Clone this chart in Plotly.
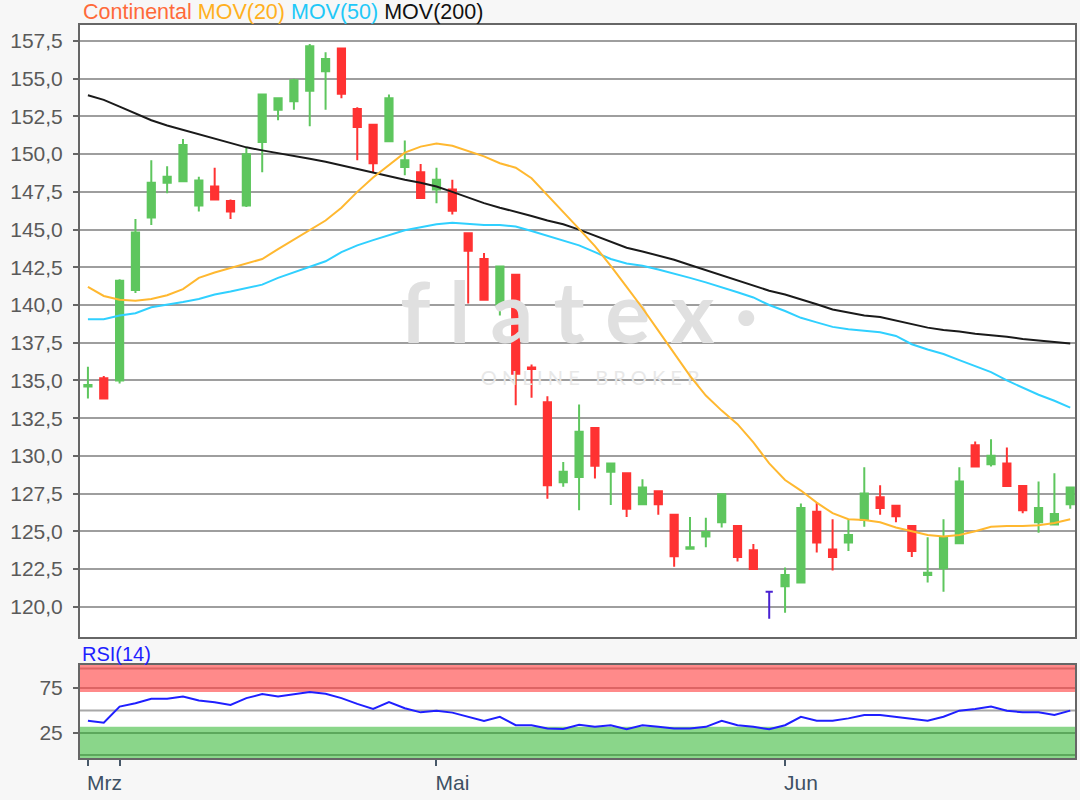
import numpy as np
import pandas as pd
import plotly.graph_objects as go

# trading days shown (Xetra, 2019)
dates = pd.bdate_range("2019-03-28", "2019-06-27", freq="C",
                       holidays=["2019-04-19", "2019-04-22", "2019-05-01"])

open_ = [134.6, 135.15, 135.0, 141.0, 145.8, 148.1, 148.2, 146.6, 147.85, 146.9,
         146.6, 150.8, 152.95, 153.5, 154.2, 155.5, 157.0, 153.0, 151.95, 150.85,
         149.15, 148.8, 147.65, 147.65, 144.75, 143.05, 140.0, 142.0, 135.85, 133.55,
         128.25, 128.6, 131.85, 128.95, 128.85, 126.8, 127.65, 126.1, 123.85, 124.65,
         125.6, 125.35, 123.75, 121.0, 121.35, 121.6, 126.3, 123.8, 124.25, 125.75,
         127.25, 126.7, 125.35, 122.1, 122.55, 124.2, 130.7, 129.45, 129.5, 128.0,
         125.6, 125.45, 126.8]
high = [135.9, 135.3, 141.7, 145.7, 149.6, 149.2, 151.0, 148.5, 149.1, 147.0,
        150.4, 154.0, 153.75, 155.0, 157.3, 156.75, 157.05, 153.1, 152.0, 153.95,
        150.9, 149.35, 149.1, 148.3, 144.8, 143.45, 142.6, 142.05, 136.05, 133.95,
        129.6, 133.4, 131.9, 129.55, 128.9, 128.45, 127.7, 126.15, 125.95, 125.9,
        127.5, 125.4, 124.15, 121.0, 122.6, 126.85, 126.9, 125.8, 125.75, 129.25,
        128.05, 126.75, 125.4, 124.6, 125.8, 129.25, 130.95, 131.1, 130.55, 128.05,
        128.3, 128.85, 127.95]
low = [133.8, 133.75, 134.8, 140.8, 145.3, 147.4, 148.15, 146.2, 146.95, 145.7,
       146.5, 148.8, 152.25, 152.95, 151.85, 152.95, 153.7, 149.6, 148.75, 150.8,
       148.6, 147.05, 146.75, 146.0, 140.1, 140.3, 139.3, 133.35, 133.85, 127.15,
       127.95, 126.4, 128.5, 126.75, 125.95, 126.75, 126.1, 122.65, 123.8, 123.95,
       125.25, 123.0, 122.45, 119.2, 119.6, 121.55, 123.6, 122.4, 123.7, 125.3,
       126.1, 125.6, 123.3, 121.6, 121.0, 124.15, 129.25, 129.3, 127.95, 126.2,
       124.9, 125.4, 126.5]
close = [134.7, 133.8, 141.6, 144.8, 148.1, 148.5, 150.6, 148.25, 147.0, 146.2,
         150.0, 153.95, 153.7, 154.9, 157.15, 156.3, 154.0, 151.8, 149.4, 153.7,
         149.6, 147.1, 148.3, 146.25, 143.6, 140.35, 142.55, 135.45, 135.75, 128.05,
         128.95, 131.6, 129.35, 129.5, 126.5, 127.9, 126.8, 123.35, 123.95, 124.95,
         127.45, 123.3, 122.5, 121.0, 122.1, 126.55, 124.25, 123.3, 124.75, 127.5,
         126.55, 126.0, 123.7, 122.25, 124.6, 128.3, 129.3, 130.0, 128.0, 126.4,
         126.55, 126.15, 127.9]

mov20 = [141.2, 140.6, 140.35, 140.28, 140.4, 140.65, 141.05, 141.8, 142.15, 142.45,
         142.75, 143.05, 143.7, 144.35, 144.95, 145.6, 146.45, 147.5, 148.45, 149.3,
         150.1, 150.5, 150.7, 150.55, 150.2, 149.85, 149.4, 149.1, 148.4, 147.3,
         146.2, 145.05, 143.9, 142.6, 141.2, 139.8, 138.3, 136.8, 135.3, 134.0,
         133.0, 132.1, 130.9, 129.5, 128.4, 127.7, 126.9, 126.2, 125.8, 125.75,
         125.6, 125.25, 125.0, 124.75, 124.65, 124.75, 125.0, 125.3, 125.35, 125.35,
         125.4, 125.55, 125.8]
mov50 = [139.05, 139.05, 139.3, 139.45, 139.85, 140.0, 140.2, 140.4, 140.7, 140.9,
         141.1, 141.35, 141.8, 142.15, 142.5, 142.9, 143.5, 143.95, 144.3, 144.65,
         144.95, 145.15, 145.35, 145.45, 145.35, 145.3, 145.3, 145.2, 144.9, 144.6,
         144.3, 143.95, 143.5, 143.05, 142.75, 142.6, 142.35, 142.1, 141.8, 141.5,
         141.2, 140.85, 140.5, 140.0, 139.6, 139.15, 138.85, 138.55, 138.4, 138.3,
         138.2, 137.95, 137.4, 137.05, 136.75, 136.35, 135.95, 135.55, 135.0, 134.5,
         134.05, 133.65, 133.2]
mov200 = [153.9, 153.6, 153.15, 152.7, 152.25, 151.9, 151.6, 151.35, 151.05, 150.7,
          150.45, 150.25, 150.05, 149.9, 149.7, 149.5, 149.25, 149.0, 148.75, 148.55,
          148.3, 148.1, 147.85, 147.5, 147.1, 146.75, 146.45, 146.2, 145.9, 145.6,
          145.35, 145.0, 144.6, 144.15, 143.8, 143.55, 143.3, 143.0, 142.65, 142.3,
          141.95, 141.6, 141.25, 140.95, 140.7, 140.4, 140.05, 139.7, 139.5, 139.3,
          139.2, 138.95, 138.7, 138.5, 138.35, 138.25, 138.1, 138.0, 137.9, 137.75,
          137.65, 137.55, 137.45]
rsi14 = [38.5, 36.3, 54.3, 58.0, 63.0, 63.0, 65.6, 61.0, 59.2, 56.2,
         63.7, 68.2, 65.6, 68.2, 70.5, 68.6, 63.7, 57.3, 51.7, 59.2,
         52.4, 47.9, 49.8, 47.6, 43.0, 38.2, 43.0, 33.6, 33.6, 30.0,
         29.5, 34.0, 31.8, 33.6, 29.1, 33.6, 31.8, 29.9, 29.9, 31.8,
         38.5, 33.6, 31.8, 29.1, 33.6, 43.0, 38.5, 38.5, 41.2, 44.9,
         44.9, 43.0, 41.2, 38.5, 43.0, 49.8, 51.7, 54.3, 49.8, 47.9,
         47.9, 44.9, 49.8]

month_names = {3: "Mrz", 4: "Apr", 5: "Mai", 6: "Jun"}

UP = "#5ec65e"
DOWN = "#ff3232"
FLAT = "#4a22d2"

o, h, l, c = (np.array(v) for v in (open_, high, low, close))
x = np.arange(len(dates))
flat = np.isclose(o, c)

# month ticks: first trading day of each month, skip labels that would overlap
tickvals, ticktext = [], []
for i, d in enumerate(dates):
    if i == 0 or d.month != dates[i - 1].month:
        lab = month_names[d.month]
        if ticktext and i - tickvals[-1] < 4:
            lab = ""
        tickvals.append(i)
        ticktext.append(lab)

fig = go.Figure()

# watermark
fig.add_trace(go.Scatter(x=[31], y=[138.9], mode="text", text=["f l a t e x ·"],
                         textfont=dict(size=84, color="#e0e0e0", family="Lato", weight="bold"),
                         hoverinfo="skip", showlegend=False))
fig.add_trace(go.Scatter(x=[31.7], y=[135.0], mode="text", text=["O N L I N E   B R O K E R"],
                         textfont=dict(size=20, color="#e8e8e8", family="Lato"),
                         hoverinfo="skip", showlegend=False))

for name, vals, col in [("MOV(200)", mov200, "#1a1a1a"), ("MOV(50)", mov50, "#30d0ff"),
                        ("MOV(20)", mov20, "#ffb830")]:
    fig.add_trace(go.Scatter(x=x, y=vals, mode="lines", name=name,
                             line=dict(color=col, width=2), hoverinfo="skip"))

fig.add_trace(go.Candlestick(x=x[~flat], open=o[~flat], high=h[~flat], low=l[~flat], close=c[~flat],
                             increasing=dict(line=dict(color=UP, width=2), fillcolor=UP),
                             decreasing=dict(line=dict(color=DOWN, width=2), fillcolor=DOWN),
                             name="Continental", showlegend=False))
fig.add_trace(go.Candlestick(x=x[flat], open=o[flat], high=h[flat], low=l[flat], close=c[flat],
                             increasing=dict(line=dict(color=FLAT, width=2), fillcolor=FLAT),
                             decreasing=dict(line=dict(color=FLAT, width=2), fillcolor=FLAT),
                             showlegend=False))

fig.add_trace(go.Scatter(x=x, y=rsi14, mode="lines", xaxis="x2", yaxis="y2",
                         line=dict(color="#1f1fff", width=2), name="RSI(14)"))

# RSI zones
fig.add_shape(type="rect", xref="x2 domain", yref="y2", x0=0, x1=1, y0=70.5, y1=100.6,
              fillcolor="#ff8a8a", line_width=0, layer="below")
fig.add_shape(type="rect", xref="x2 domain", yref="y2", x0=0, x1=1, y0=-2.8, y1=32,
              fillcolor="#8ad68a", line_width=0, layer="below")
for yv, col in [(96.5, "#dd6464"), (75, "#dd6464"), (25, "#5ca85c"), (0.5, "#5ca85c"), (50, "#a8a8a8")]:
    fig.add_shape(type="line", xref="x2 domain", yref="y2", x0=0, x1=1, y0=yv, y1=yv,
                  line=dict(color=col, width=2), layer="below")

axis_line = dict(showline=True, mirror=True, linecolor="#666666", linewidth=2, zeroline=False)
fig.update_layout(
    width=1080, height=800,
    margin=dict(l=80, r=3, t=25, b=42),
    paper_bgcolor="#f7f7f7", plot_bgcolor="white",
    showlegend=False, separators=",.", boxgap=0.35,
    font=dict(family="Liberation Sans", size=21, color="#5a5a5a"),
    xaxis=dict(domain=[0, 1], anchor="y", range=[-0.5, 62.3], showticklabels=False,
               ticks="", showgrid=False, rangeslider=dict(visible=False), **axis_line),
    xaxis2=dict(domain=[0, 1], anchor="y2", matches="x", range=[-0.5, 62.3],
                tickmode="array", tickvals=tickvals, ticktext=ticktext,
                ticks="outside", ticklen=6, tickwidth=2, tickcolor="#475869",
                ticklabelposition="outside right", ticklabelstandoff=5, ticklabelshift=-3,
                tickfont=dict(size=21, color="#3e5164"), showgrid=False, **axis_line),
    yaxis=dict(domain=[0.165, 1], anchor="x", range=[117.99, 158.56],
               tick0=120, dtick=2.5, tickformat=".1f",
               showgrid=True, gridcolor="#9e9e9e", gridwidth=2,
               ticks="outside", ticklen=5, tickwidth=2, tickcolor="#666666",
               ticklabelstandoff=6, **axis_line),
    yaxis2=dict(domain=[0, 0.127], anchor="x2", range=[-2.8, 100.6],
                tickvals=[25, 75], showgrid=False,
                ticks="outside", ticklen=5, tickwidth=2, tickcolor="#666666",
                ticklabelstandoff=6, **axis_line),
)

title = ("<span style='color:#ff6a3a'>Continental</span> "
         "<span style='color:#ffb020'>MOV(20)</span> "
         "<span style='color:#22c8f8'>MOV(50)</span> "
         "<span style='color:#111111'>MOV(200)</span>")
fig.add_annotation(text=title, xref="paper", yref="paper", x=0, y=1, xanchor="left",
                   yanchor="bottom", xshift=1, yshift=-1, showarrow=False, font=dict(size=21.5))
fig.add_annotation(text="RSI(14)", xref="paper", yref="paper", x=0, y=0.127, xanchor="left",
                   yanchor="bottom", xshift=0, yshift=-2, showarrow=False,
                   font=dict(size=20, color="#1f1fff"))

# page body has a default margin; drop it so the figure fills the window exactly
fig.write_html("out.html", config={"displayModeBar": False},
               post_script="document.body.style.margin='0';")
